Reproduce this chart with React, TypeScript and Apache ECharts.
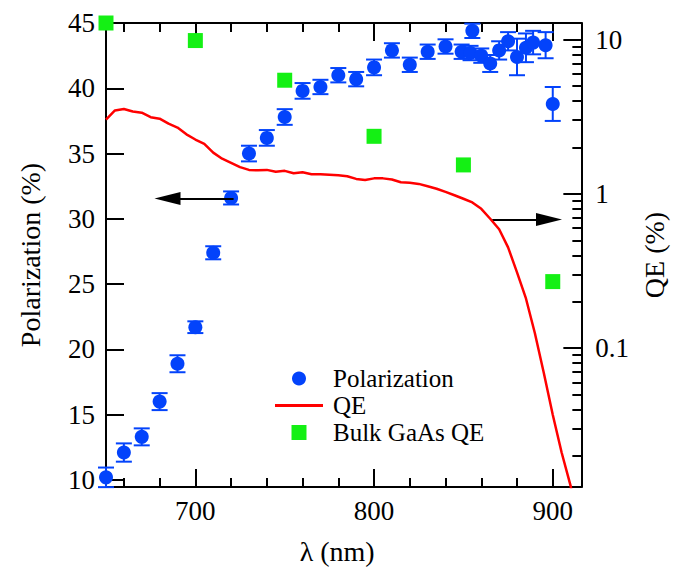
import React, { useEffect, useRef } from "react";
import * as echarts from "echarts";

// Polarization data (wavelength nm, polarization %, error %)
const polX = [650, 660, 670, 680, 690, 700, 710, 720, 730, 740, 750, 760, 770, 780, 790, 800, 810, 820, 830, 840, 849, 854, 855, 860, 865, 870, 875, 880, 885, 889, 896, 900];
const polY = [10.2, 12.1, 13.3, 16.0, 18.9, 21.7, 27.4, 31.6, 35.0, 36.2, 37.8, 39.8, 40.1, 41.0, 40.7, 41.6, 42.9, 41.8, 42.8, 43.2, 42.8, 42.7, 44.4, 42.5, 41.9, 42.9, 43.6, 42.4, 43.1, 43.5, 43.3, 38.8];
const polErr = [0.75, 0.7, 0.65, 0.65, 0.65, 0.45, 0.5, 0.5, 0.6, 0.6, 0.6, 0.6, 0.55, 0.55, 0.55, 0.6, 0.55, 0.55, 0.55, 0.55, 0.55, 0.55, 0.55, 0.55, 0.65, 0.7, 0.7, 1.4, 1.1, 0.9, 1.0, 1.3];

// QE curve (wavelength nm, QE %)
const qeX = [650, 655, 660, 665, 670, 675, 680, 685, 690, 695, 700, 705, 710, 715, 720, 725, 730, 735, 740, 745, 750, 755, 760, 765, 770, 775, 780, 785, 790, 795, 800, 805, 810, 815, 820, 825, 830, 835, 840, 845, 850, 855, 860, 865, 870, 875, 880, 885, 890, 895, 900, 905, 910, 912];
const qeY = [3.03, 3.47, 3.55, 3.42, 3.36, 3.14, 3.07, 2.85, 2.69, 2.43, 2.25, 2.11, 1.85, 1.69, 1.59, 1.49, 1.43, 1.42, 1.43, 1.39, 1.41, 1.36, 1.38, 1.34, 1.34, 1.33, 1.32, 1.30, 1.25, 1.23, 1.26, 1.26, 1.24, 1.19, 1.18, 1.16, 1.12, 1.08, 1.03, 0.98, 0.93, 0.88, 0.80, 0.69, 0.59, 0.45, 0.31, 0.21, 0.125, 0.069, 0.037, 0.021, 0.0128, 0.0095];

// Bulk GaAs QE
const bulkX = [650, 700, 750, 800, 850, 900];
const bulkY = [12.8, 9.85, 5.45, 2.36, 1.54, 0.27];

// Axis ticks
const xMajor = [700, 800, 900];
const xMinor = [660, 680, 720, 740, 760, 780, 820, 840, 860, 880];
const yLeftTicks = [10, 15, 20, 25, 30, 35, 40, 45];
const yRightMajor = [0.1, 1, 10];
const yRightMinor = [0.02, 0.03, 0.04, 0.05, 0.06, 0.07, 0.08, 0.09, 0.2, 0.3, 0.4, 0.5, 0.6, 0.7, 0.8, 0.9, 2, 3, 4, 5, 6, 7, 8, 9];

// Arrow annotations (data coords: [x, y on left axis])
const arrowLeft = [[721.4, 31.55], [684.4, 31.55]];
const arrowRight = [[866.1, 29.95], [897.9, 29.95]];

const FONT = "Liberation Serif";
const BLUE = "#0343fb";
const RED = "#ff0000";
const GREEN = "#14f014";

export default function App() {
  const ref = useRef<HTMLDivElement>(null);
  useEffect(() => {
    if (!ref.current) return;
    const chart = echarts.init(ref.current, null, { renderer: "svg" });
    const xRange = { min: 650, max: 916 };
    const yLogRange = { min: 0.0126, max: 12.8 };
    const axisLineStyle = { color: "#000", width: 2 };
    const tickLine = { color: "#000", width: 2 };
    const labelStyle = { color: "#000", fontFamily: FONT, fontSize: 27 };
    const nameStyle = { color: "#000", fontFamily: FONT, fontSize: 28 };

    const legendText = { color: "#000", fontFamily: FONT, fontSize: 25, lineHeight: 25 };
    const legendBase = {
      orient: "vertical",
      padding: 5,
      selectedMode: false,
    };

    const option: any = {
      animation: false,
      backgroundColor: "#fff",
      textStyle: { fontFamily: FONT },
      grid: { left: 106, top: 23, width: 477, height: 464 },
      legend: [
        {
          ...legendBase,
          left: 287,
          top: 361,
          itemWidth: 14,
          itemHeight: 14,
          textStyle: { ...legendText, padding: [0, 0, 0, 22] },
          data: ["Polarization"],
        },
        {
          ...legendBase,
          left: 270,
          top: 388,
          itemWidth: 48,
          itemHeight: 3,
          textStyle: { ...legendText, padding: [0, 0, 0, 5] },
          data: [{ name: "QE", icon: "rect" }],
        },
        {
          ...legendBase,
          left: 286.5,
          top: 415,
          itemWidth: 15,
          itemHeight: 15,
          textStyle: { ...legendText, padding: [0, 0, 0, 21.5] },
          data: [{ name: "Bulk GaAs QE", icon: "rect" }],
        },
      ],
      xAxis: [
        {
          type: "value",
          position: "bottom",
          ...xRange,
          name: "λ (nm)",
          nameLocation: "middle",
          nameGap: 50,
          nameTextStyle: { ...nameStyle, padding: [0, 13, 0, 0] },
          axisLine: { show: true, onZero: false, lineStyle: axisLineStyle },
          axisTick: { show: true, inside: true, length: 18, lineStyle: tickLine, customValues: xMajor },
          axisLabel: { ...labelStyle, margin: 10, customValues: xMajor },
          splitLine: { show: false },
        },
        {
          type: "value",
          position: "bottom",
          ...xRange,
          axisLine: { show: false, onZero: false },
          axisTick: { show: true, inside: true, length: 9, lineStyle: tickLine, customValues: xMinor },
          axisLabel: { show: false },
          splitLine: { show: false },
        },
        {
          type: "value",
          position: "top",
          ...xRange,
          axisLine: { show: true, onZero: false, lineStyle: axisLineStyle },
          axisTick: { show: true, inside: true, length: 18, lineStyle: tickLine, customValues: xMajor },
          axisLabel: { show: false },
          splitLine: { show: false },
        },
        {
          type: "value",
          position: "top",
          ...xRange,
          axisLine: { show: false, onZero: false },
          axisTick: { show: true, inside: true, length: 9, lineStyle: tickLine, customValues: xMinor },
          axisLabel: { show: false },
          splitLine: { show: false },
        },
      ],
      yAxis: [
        {
          type: "value",
          position: "left",
          min: 9.46,
          max: 45,
          name: "Polarization (%)",
          nameLocation: "middle",
          nameRotate: 90,
          nameGap: 62,
          nameTextStyle: nameStyle,
          axisLine: { show: true, onZero: false, lineStyle: axisLineStyle },
          axisTick: { show: true, inside: true, length: 18, lineStyle: tickLine, customValues: yLeftTicks },
          axisLabel: { ...labelStyle, margin: 11, customValues: yLeftTicks },
          splitLine: { show: false },
        },
        {
          type: "log",
          position: "right",
          ...yLogRange,
          name: "QE (%)",
          nameLocation: "middle",
          nameRotate: 90,
          nameGap: 52,
          nameTextStyle: nameStyle,
          axisLine: { show: true, onZero: false, lineStyle: axisLineStyle },
          axisTick: { show: true, inside: true, length: 18, lineStyle: tickLine, customValues: yRightMajor },
          axisLabel: {
            ...labelStyle,
            margin: 14,
            customValues: yRightMajor,
            formatter: (v: number) => String(Math.round(v * 1000) / 1000),
          },
          splitLine: { show: false },
        },
        {
          type: "log",
          position: "right",
          ...yLogRange,
          axisLine: { show: false, onZero: false },
          axisTick: { show: true, inside: true, length: 9, lineStyle: tickLine, customValues: yRightMinor },
          axisLabel: { show: false },
          splitLine: { show: false },
        },
      ],
      series: [
        {
          type: "custom",
          name: "errbars",
          xAxisIndex: 0,
          yAxisIndex: 0,
          clip: false,
          z: 3,
          data: polX.map((x, i) => [x, polY[i], polErr[i]]),
          renderItem: (params: any, api: any) => {
            const x = api.value(0);
            const y = api.value(1);
            const e = api.value(2);
            const top = api.coord([x, y + e]);
            const bot = api.coord([x, y - e]);
            const hw = 8;
            const style = { stroke: BLUE, lineWidth: 2 };
            return {
              type: "group",
              children: [
                { type: "line", shape: { x1: top[0], y1: top[1], x2: bot[0], y2: bot[1] }, style },
                { type: "line", shape: { x1: top[0] - hw, y1: top[1], x2: top[0] + hw, y2: top[1] }, style },
                { type: "line", shape: { x1: bot[0] - hw, y1: bot[1], x2: bot[0] + hw, y2: bot[1] }, style },
              ],
            };
          },
        },
        {
          type: "scatter",
          name: "Polarization",
          xAxisIndex: 0,
          yAxisIndex: 0,
          symbol: "circle",
          symbolSize: 14,
          clip: false,
          z: 4,
          itemStyle: { color: BLUE, opacity: 1 },
          data: polX.map((x, i) => [x, polY[i]]),
          markLine: {
            silent: true,
            symbol: ["none", "triangle"],
            symbolSize: [0, [13, 26]],
            label: { show: false },
            lineStyle: { color: "#000", width: 2, type: "solid" },
            emphasis: { disabled: true },
            data: [
              [
                { coord: arrowLeft[0], symbol: "none" },
                { coord: arrowLeft[1], symbol: "triangle", symbolSize: [13, 26] },
              ],
              [
                { coord: arrowRight[0], symbol: "none" },
                { coord: arrowRight[1], symbol: "triangle", symbolSize: [13, 26] },
              ],
            ],
            itemStyle: { color: "#000" },
          },
        },
        {
          type: "line",
          name: "QE",
          xAxisIndex: 0,
          yAxisIndex: 1,
          symbol: "none",
          showSymbol: false,
          smooth: false,
          clip: true,
          z: 5,
          lineStyle: { color: RED, width: 2.5 },
          itemStyle: { color: RED },
          data: qeX.map((x, i) => [x, qeY[i]]),
        },
        {
          type: "scatter",
          name: "Bulk GaAs QE",
          xAxisIndex: 0,
          yAxisIndex: 1,
          symbol: "rect",
          symbolSize: 15,
          clip: false,
          z: 6,
          itemStyle: { color: GREEN, opacity: 1 },
          data: bulkX.map((x, i) => [x, bulkY[i]]),
        },
      ],
    };
    chart.setOption(option);
    return () => chart.dispose();
  }, []);
  return (
    <div
      ref={ref}
      style={{ position: "fixed", left: 0, top: 0, width: 676, height: 574, margin: 0 }}
    />
  );
}
